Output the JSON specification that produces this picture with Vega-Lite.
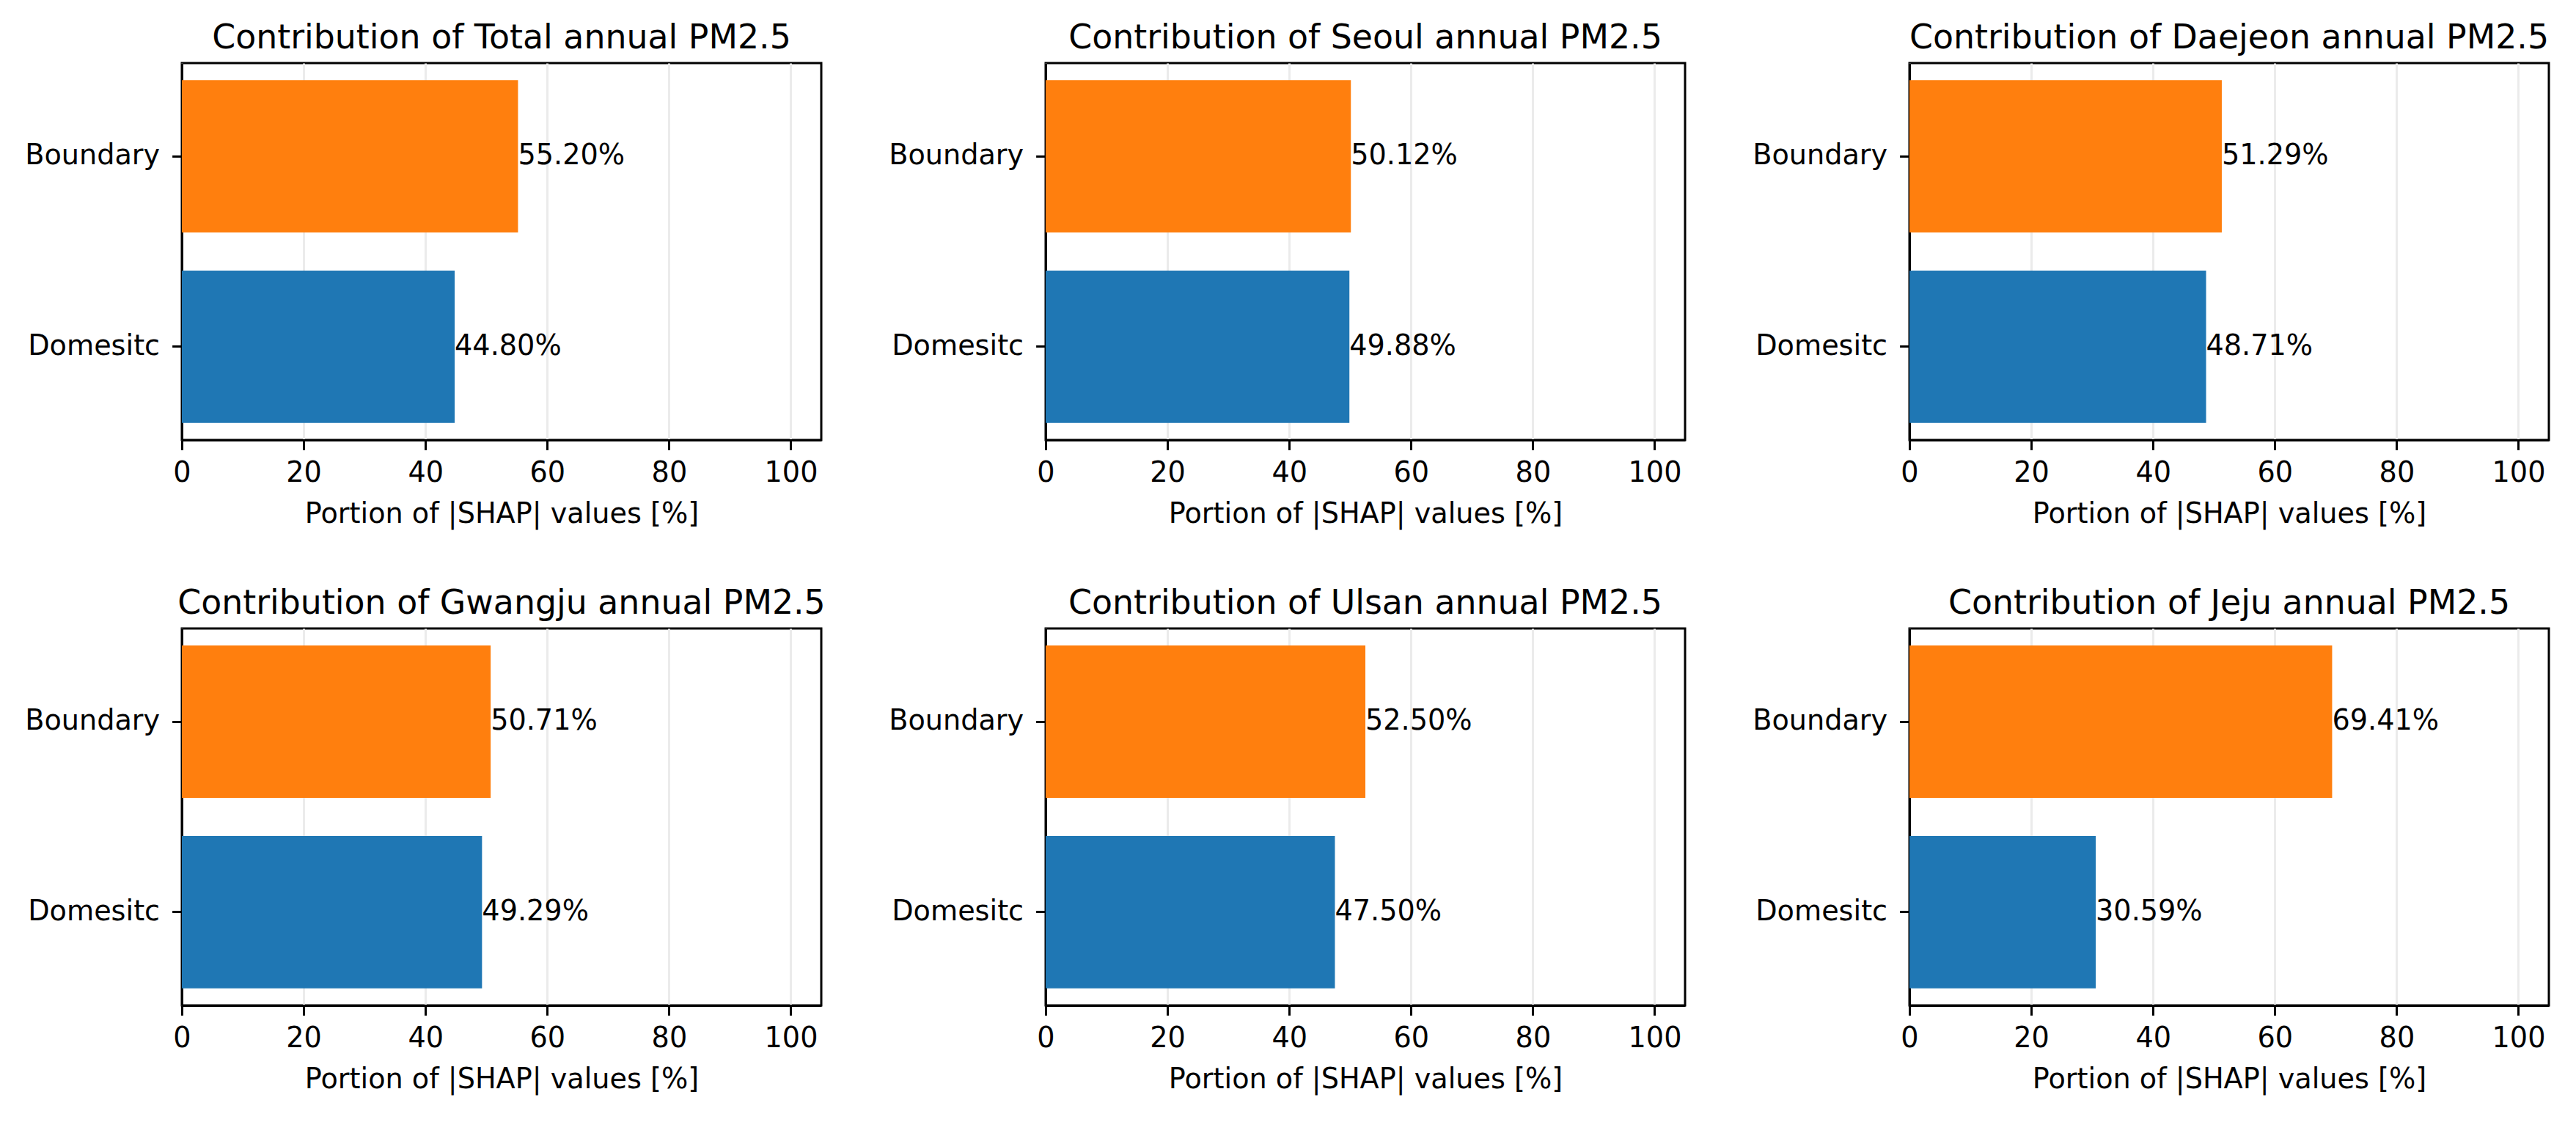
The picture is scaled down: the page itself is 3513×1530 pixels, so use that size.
{
  "$schema": "https://vega.github.io/schema/vega-lite/v6.json",
  "background": "white",
  "padding": {"left": 32, "top": 27, "right": 30, "bottom": 30},
  "data": {"values": [
    {"region": "Total", "source": "Boundary", "value": 55.20, "label": "55.20%"},
    {"region": "Total", "source": "Domesitc", "value": 44.80, "label": "44.80%"},
    {"region": "Seoul", "source": "Boundary", "value": 50.12, "label": "50.12%"},
    {"region": "Seoul", "source": "Domesitc", "value": 49.88, "label": "49.88%"},
    {"region": "Daejeon", "source": "Boundary", "value": 51.29, "label": "51.29%"},
    {"region": "Daejeon", "source": "Domesitc", "value": 48.71, "label": "48.71%"},
    {"region": "Gwangju", "source": "Boundary", "value": 50.71, "label": "50.71%"},
    {"region": "Gwangju", "source": "Domesitc", "value": 49.29, "label": "49.29%"},
    {"region": "Ulsan", "source": "Boundary", "value": 52.50, "label": "52.50%"},
    {"region": "Ulsan", "source": "Domesitc", "value": 47.50, "label": "47.50%"},
    {"region": "Jeju", "source": "Boundary", "value": 69.41, "label": "69.41%"},
    {"region": "Jeju", "source": "Domesitc", "value": 30.59, "label": "30.59%"}
  ]},
  "columns": 3,
  "spacing": {"row": 257, "column": 306},
  "bounds": "flush",
  "concat": [
    {
      "title": "Contribution of Total annual PM2.5",
      "width": 872, "height": 514,
      "transform": [{"filter": "datum.region === 'Total'"}],
      "encoding": {
        "y": {"field": "source", "type": "nominal", "sort": ["Boundary", "Domesitc"], "scale": {"paddingInner": 0.2, "paddingOuter": 0.09}, "axis": {"title": null}},
        "x": {"field": "value", "type": "quantitative", "scale": {"domain": [0, 105], "nice": false, "zero": true}, "axis": {"title": "Portion of |SHAP| values [%]", "values": [0, 20, 40, 60, 80, 100]}}
      },
      "layer": [
        {"mark": {"type": "bar"}, "encoding": {"color": {"field": "source", "type": "nominal", "scale": {"domain": ["Domesitc", "Boundary"], "range": ["#1f77b4", "#ff7f0e"]}, "legend": null}}},
        {"mark": {"type": "text", "align": "left", "baseline": "middle", "fontSize": 38.2, "font": "DejaVu Sans", "color": "black"}, "encoding": {"text": {"field": "label"}}}
      ]
    },
    {
      "title": "Contribution of Seoul annual PM2.5",
      "width": 872, "height": 514,
      "transform": [{"filter": "datum.region === 'Seoul'"}],
      "encoding": {
        "y": {"field": "source", "type": "nominal", "sort": ["Boundary", "Domesitc"], "scale": {"paddingInner": 0.2, "paddingOuter": 0.09}, "axis": {"title": null}},
        "x": {"field": "value", "type": "quantitative", "scale": {"domain": [0, 105], "nice": false, "zero": true}, "axis": {"title": "Portion of |SHAP| values [%]", "values": [0, 20, 40, 60, 80, 100]}}
      },
      "layer": [
        {"mark": {"type": "bar"}, "encoding": {"color": {"field": "source", "type": "nominal", "scale": {"domain": ["Domesitc", "Boundary"], "range": ["#1f77b4", "#ff7f0e"]}, "legend": null}}},
        {"mark": {"type": "text", "align": "left", "baseline": "middle", "fontSize": 38.2, "font": "DejaVu Sans", "color": "black"}, "encoding": {"text": {"field": "label"}}}
      ]
    },
    {
      "title": "Contribution of Daejeon annual PM2.5",
      "width": 872, "height": 514,
      "transform": [{"filter": "datum.region === 'Daejeon'"}],
      "encoding": {
        "y": {"field": "source", "type": "nominal", "sort": ["Boundary", "Domesitc"], "scale": {"paddingInner": 0.2, "paddingOuter": 0.09}, "axis": {"title": null}},
        "x": {"field": "value", "type": "quantitative", "scale": {"domain": [0, 105], "nice": false, "zero": true}, "axis": {"title": "Portion of |SHAP| values [%]", "values": [0, 20, 40, 60, 80, 100]}}
      },
      "layer": [
        {"mark": {"type": "bar"}, "encoding": {"color": {"field": "source", "type": "nominal", "scale": {"domain": ["Domesitc", "Boundary"], "range": ["#1f77b4", "#ff7f0e"]}, "legend": null}}},
        {"mark": {"type": "text", "align": "left", "baseline": "middle", "fontSize": 38.2, "font": "DejaVu Sans", "color": "black"}, "encoding": {"text": {"field": "label"}}}
      ]
    },
    {
      "title": "Contribution of Gwangju annual PM2.5",
      "width": 872, "height": 514,
      "transform": [{"filter": "datum.region === 'Gwangju'"}],
      "encoding": {
        "y": {"field": "source", "type": "nominal", "sort": ["Boundary", "Domesitc"], "scale": {"paddingInner": 0.2, "paddingOuter": 0.09}, "axis": {"title": null}},
        "x": {"field": "value", "type": "quantitative", "scale": {"domain": [0, 105], "nice": false, "zero": true}, "axis": {"title": "Portion of |SHAP| values [%]", "values": [0, 20, 40, 60, 80, 100]}}
      },
      "layer": [
        {"mark": {"type": "bar"}, "encoding": {"color": {"field": "source", "type": "nominal", "scale": {"domain": ["Domesitc", "Boundary"], "range": ["#1f77b4", "#ff7f0e"]}, "legend": null}}},
        {"mark": {"type": "text", "align": "left", "baseline": "middle", "fontSize": 38.2, "font": "DejaVu Sans", "color": "black"}, "encoding": {"text": {"field": "label"}}}
      ]
    },
    {
      "title": "Contribution of Ulsan annual PM2.5",
      "width": 872, "height": 514,
      "transform": [{"filter": "datum.region === 'Ulsan'"}],
      "encoding": {
        "y": {"field": "source", "type": "nominal", "sort": ["Boundary", "Domesitc"], "scale": {"paddingInner": 0.2, "paddingOuter": 0.09}, "axis": {"title": null}},
        "x": {"field": "value", "type": "quantitative", "scale": {"domain": [0, 105], "nice": false, "zero": true}, "axis": {"title": "Portion of |SHAP| values [%]", "values": [0, 20, 40, 60, 80, 100]}}
      },
      "layer": [
        {"mark": {"type": "bar"}, "encoding": {"color": {"field": "source", "type": "nominal", "scale": {"domain": ["Domesitc", "Boundary"], "range": ["#1f77b4", "#ff7f0e"]}, "legend": null}}},
        {"mark": {"type": "text", "align": "left", "baseline": "middle", "fontSize": 38.2, "font": "DejaVu Sans", "color": "black"}, "encoding": {"text": {"field": "label"}}}
      ]
    },
    {
      "title": "Contribution of Jeju annual PM2.5",
      "width": 872, "height": 514,
      "transform": [{"filter": "datum.region === 'Jeju'"}],
      "encoding": {
        "y": {"field": "source", "type": "nominal", "sort": ["Boundary", "Domesitc"], "scale": {"paddingInner": 0.2, "paddingOuter": 0.09}, "axis": {"title": null}},
        "x": {"field": "value", "type": "quantitative", "scale": {"domain": [0, 105], "nice": false, "zero": true}, "axis": {"title": "Portion of |SHAP| values [%]", "values": [0, 20, 40, 60, 80, 100]}}
      },
      "layer": [
        {"mark": {"type": "bar"}, "encoding": {"color": {"field": "source", "type": "nominal", "scale": {"domain": ["Domesitc", "Boundary"], "range": ["#1f77b4", "#ff7f0e"]}, "legend": null}}},
        {"mark": {"type": "text", "align": "left", "baseline": "middle", "fontSize": 38.2, "font": "DejaVu Sans", "color": "black"}, "encoding": {"text": {"field": "label"}}}
      ]
    }
  ],
  "resolve": {"scale": {"color": "shared"}},
  "config": {
    "font": "DejaVu Sans",
    "view": {"stroke": "black", "strokeWidth": 3},
    "axis": {
      "labelFont": "DejaVu Sans", "titleFont": "DejaVu Sans",
      "labelFontSize": 38.2, "titleFontSize": 38.2, "titleFontWeight": "normal",
      "labelColor": "black", "titleColor": "black",
      "tickColor": "black", "tickWidth": 3, "tickSize": 13.4,
      "domain": true, "domainColor": "black", "domainWidth": 3, "zindex": 1,
      "labelFlush": false, "labelLimit": 1000, "labelOverlap": false
    },
    "axisX": {"grid": true, "gridColor": "#ebebeb", "gridWidth": 3, "labelPadding": 13, "titlePadding": 19},
    "axisY": {"grid": false, "labelPadding": 17},
    "title": {"font": "DejaVu Sans", "fontSize": 45.8, "fontWeight": "normal", "color": "black", "anchor": "middle", "frame": "group", "baseline": "alphabetic", "offset": 10}
  }
}
